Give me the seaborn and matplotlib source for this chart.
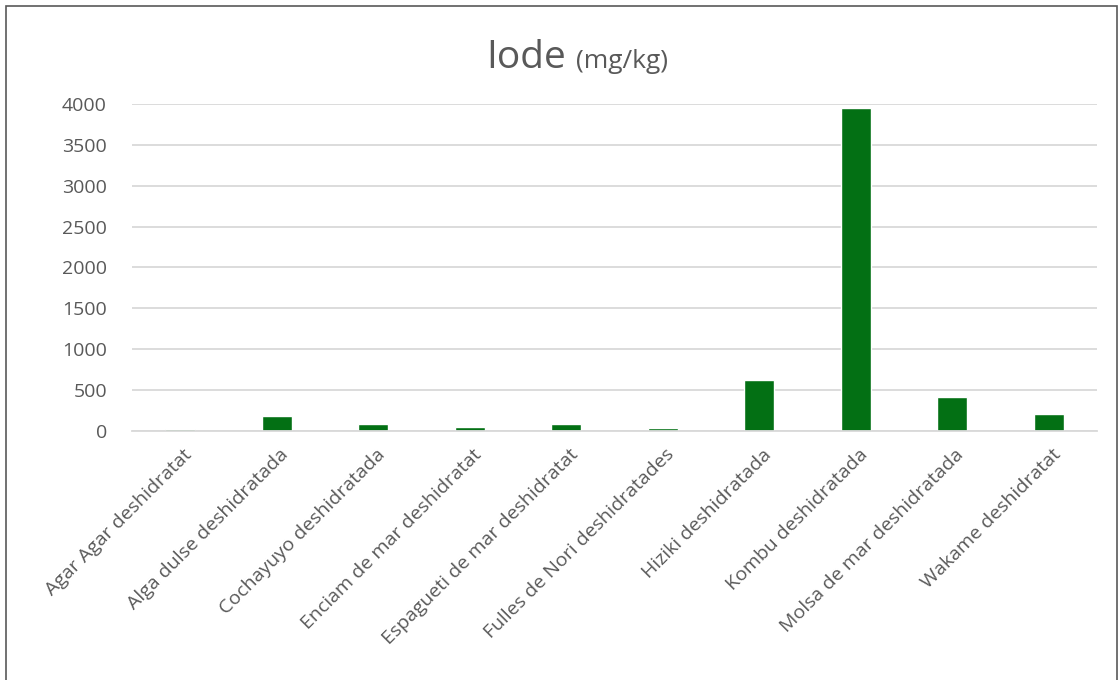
import matplotlib
matplotlib.use("Agg")
import pandas as pd
from matplotlib import pyplot as plt
from matplotlib import transforms
from matplotlib.patches import Rectangle
import seaborn as sns

# Dades: contingut en iode de les algues (mg/kg)
algues = ['Agar Agar deshidratat', 'Alga dulse deshidratada', 'Cochayuyo deshidratada',
          'Enciam de mar deshidratat', 'Espagueti de mar deshidratat', 'Fulles de Nori deshidratades',
          'Hiziki deshidratada', 'Kombu deshidratada', 'Molsa de mar deshidratada', 'Wakame deshidratat']
iode = [30, 180, 80, 55, 80, 35, 625, 3950, 420, 205]
yticks = [0, 500, 1000, 1500, 2000, 2500, 3000, 3500, 4000]

df = pd.DataFrame({'alga': algues, 'iode': iode})

sns.set_style('white')
plt.rcParams['font.family'] = ['Open Sans', 'DejaVu Sans']
gris = '#595959'

fig = plt.figure(figsize=(11.2, 6.8), dpi=100)
ax = fig.add_axes([132/1120, 1 - 431/680, 965/1120, 327/680])
sns.barplot(data=df, x='alga', y='iode', color='#037014', width=0.31,
            saturation=1, ax=ax)

ax.set_xlim(-0.5, len(algues) - 0.5)
ax.set_ylim(0, 4000)
ax.set_yticks(yticks)
ax.set_yticklabels([str(v) for v in yticks], color=gris, fontsize=14)
ax.set_xticks(range(len(algues)))
ax.set_xticklabels(algues, rotation=45, ha='right', va='center',
                   rotation_mode='anchor', color=gris, fontsize=14)
ax.tick_params(axis='y', length=0, pad=18)
ax.tick_params(axis='x', length=0, pad=15)
# desplaça les etiquetes una mica a la dreta
despl = transforms.ScaledTranslation(9/100, 0, fig.dpi_scale_trans)
for lab in ax.get_xticklabels():
    lab.set_transform(lab.get_transform() + despl)
ax.yaxis.grid(True, color='#d9d9d9', linewidth=1.3)
ax.set_axisbelow(True)
for s in ['left', 'right', 'top']:
    ax.spines[s].set_visible(False)
ax.spines['bottom'].set_color('#d9d9d9')
ax.spines['bottom'].set_linewidth(1.3)
ax.set_xlabel('')
ax.set_ylabel('')

# Titol amb dues mides
fig.text(566/1120, 1 - 68/680, 'Iode', ha='right', va='baseline',
         fontsize=28, color=gris)
fig.text(576/1120, 1 - 68/680, '(mg/kg)', ha='left', va='baseline',
         fontsize=19, color=gris)

# Marc de la figura
fig.patches.append(Rectangle((6/1120, -0.05), 1111/1120, 1.05 - 6/680,
                             transform=fig.transFigure, fill=False,
                             edgecolor='#595959', linewidth=1.2))

fig.savefig('out.png', dpi=100)
